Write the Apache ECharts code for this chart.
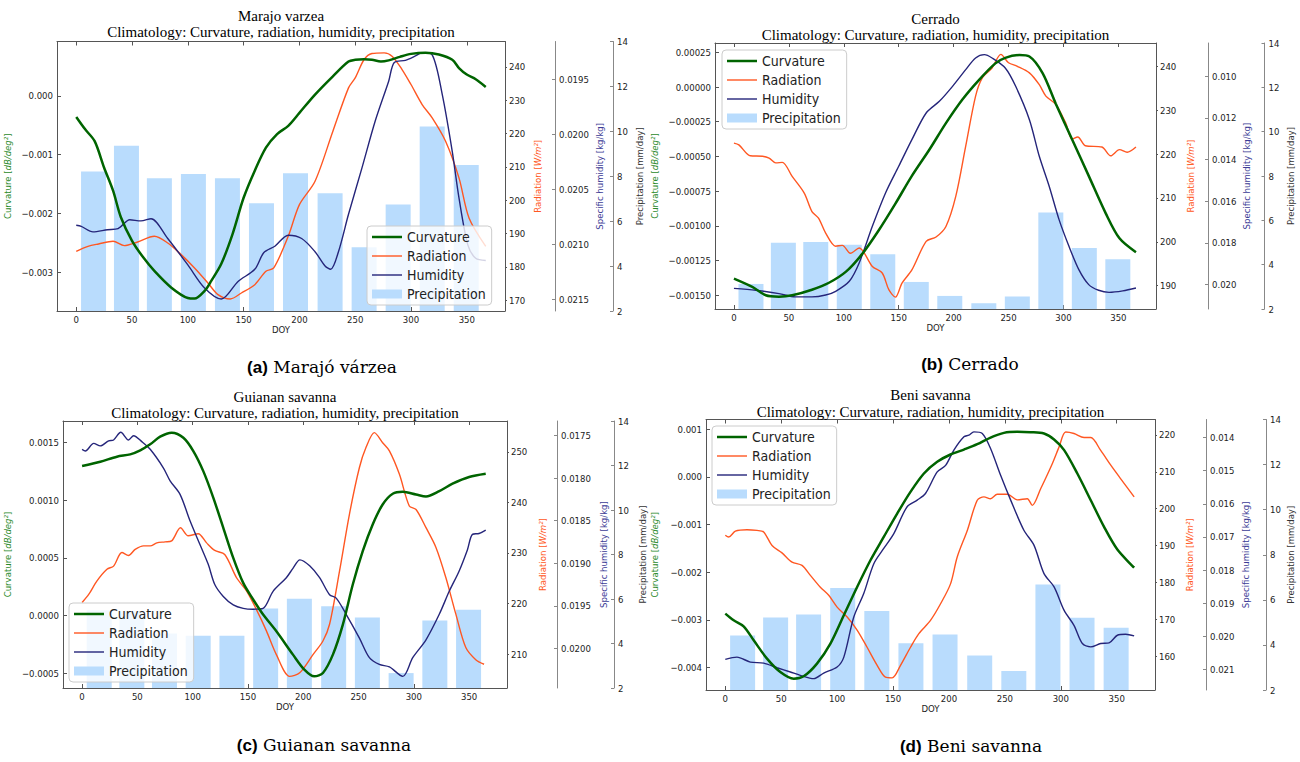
<!DOCTYPE html>
<html><head><meta charset="utf-8">
<script src="https://cdn.jsdelivr.net/npm/echarts@6/dist/echarts.min.js"></script>
<style>html,body{margin:0;padding:0;background:#fff}#chart{width:1300px;height:762px}</style>
</head><body><div id="chart"></div>
<script>
// ---------------- DATA ----------------
const monthDoy = [15.5, 45, 74.5, 105, 135.5, 166, 196.5, 227.5, 258, 288.5, 319, 349.5];
const doyTicks = [0, 50, 100, 150, 200, 250, 300, 350];
const precipTicks = [2, 4, 6, 8, 10, 12, 14];
const seriesNames = ['Curvature', 'Radiation', 'Humidity', 'Precipitation'];

// (a) Marajo varzea
const marajoCurvature = [[0,-0.00036],[8,-0.00057],[16.5,-0.00077],[25,-0.00122],[33,-0.00161],[40,-0.00206],[50,-0.00246],[60,-0.00274],[70,-0.00297],[85,-0.00325],[100,-0.00343],[106,-0.00344],[115,-0.00331],[121,-0.00314],[130,-0.00285],[140,-0.00235],[150,-0.00173],[160,-0.00127],[170,-0.00088],[180,-0.00065],[190,-0.00051],[200,-0.00029],[214,0.00002],[230,0.00033],[244,0.00058],[250,0.00061],[258,0.00062],[265,0.00061],[273,0.00058],[280,0.0006],[290,0.00066],[300,0.00071],[313,0.00073],[325,0.0007],[337,0.00061],[343,0.00047],[350,0.00036],[358,0.00028],[367,0.00015]];
const marajoRadiation = [[0,184.7],[10.5,186.2],[20,186.9],[33,187.7],[43,186.4],[55,187.5],[70,189.2],[82,187.2],[94,183.7],[106,179.7],[118,175.2],[127,171.7],[138,170.4],[148,172.2],[160,174.7],[170,178.7],[177,179.7],[190,189.2],[200,198.7],[214,205.7],[230,220.7],[244,233.7],[250,236.7],[258,242.2],[265,244.0],[276,244.2],[283,243.2],[292,239.2],[300,234.7],[310,228.7],[319,224.7],[331,217.7],[343,206.7],[352,194.7],[367,186.2]];
const marajoHumidity = [[0,0.02083],[4.5,0.02084],[15,0.02089],[28,0.02087],[37.5,0.02086],[48,0.02078],[58,0.02079],[67,0.02077],[82,0.02095],[100,0.02119],[115,0.0214],[130,0.0215],[145,0.02134],[160,0.02123],[168,0.02108],[178,0.02102],[190,0.02092],[202,0.02095],[214,0.02107],[223,0.0212],[228,0.02123],[235,0.02107],[244,0.02073],[256,0.02031],[268,0.01988],[280,0.01952],[285,0.01935],[295,0.01933],[304,0.01929],[310,0.01926],[319,0.01928],[328,0.01964],[337,0.02016],[343,0.02058],[351,0.02101],[358,0.02113],[367,0.02115]];
const marajoPrecip = [8.21, 9.36, 7.91, 8.10, 7.91, 6.80, 8.13, 7.24, 4.84, 6.74, 10.21, 8.50];
const marajoCurvTicks = [-0.003, -0.002, -0.001, 0];
const marajoRadTicks = [170, 180, 190, 200, 210, 220, 230, 240];
const marajoHumTicks = [0.0195, 0.0200, 0.0205, 0.0210, 0.0215];

// (b) Cerrado
const cerradoCurvature = [[0,-0.00138],[16.7,-0.00144],[29,-0.0015],[41,-0.00151],[53,-0.0015],[71,-0.00146],[86.5,-0.00141],[102,-0.00133],[117,-0.0012],[132,-0.00103],[147,-0.00084],[162,-0.00064],[178,-0.00045],[193,-0.00026],[208,-0.00009],[223,0.00005],[238,0.00017],[247,0.00021],[260,0.00023],[269,0.00022],[281,0.0001],[293,-0.00012],[308,-0.00038],[323,-0.00064],[338.5,-0.00091],[351,-0.00109],[366,-0.00119]];
const cerradoRadiation = [[0,222.5],[4.5,222.1],[15,219.6],[26,219.5],[32,219.1],[38,218.0],[44,218.1],[53,214.9],[64,211.1],[71,206.9],[77,205.4],[83.5,202.0],[92.6,199.0],[98.7,199.2],[106,197.4],[114,198.6],[126,194.4],[135,192.9],[141,189.1],[147,187.4],[153,190.6],[162,193.6],[175,200.1],[184,201.1],[193,203.5],[202,210.4],[211,221.8],[220,233.2],[226,237.3],[235,239.6],[243,242.7],[250,240.8],[258,240.0],[269,238.5],[278,235.8],[284,233.2],[293,231.3],[302,227.1],[308,223.4],[313,223.9],[320,221.9],[335,221.6],[343,219.6],[351,221.0],[358,220.4],[366,221.6]];
const cerradoHumidity = [[0,0.02018],[20,0.02027],[41,0.02043],[56,0.02059],[71,0.02059],[83.5,0.0205],[92.6,0.02032],[105,0.01984],[114,0.01896],[126,0.0172],[138,0.0156],[150,0.01432],[162,0.01304],[175,0.01176],[187,0.0112],[199,0.01048],[211,0.00968],[220,0.00912],[228,0.00896],[235,0.00912],[247,0.0096],[256.5,0.01048],[269,0.01208],[278,0.01384],[287,0.01528],[296,0.01688],[305,0.01816],[314,0.01928],[323,0.02],[332,0.02027],[341.5,0.02037],[354,0.0203],[366,0.02016]];
const cerradoPrecip = [3.13, 4.99, 5.02, 4.90, 4.47, 3.22, 2.59, 2.26, 2.56, 6.35, 4.75, 4.24];
const cerradoCurvTicks = [-0.0015, -0.00125, -0.001, -0.00075, -0.0005, -0.00025, 0, 0.00025];
const cerradoRadTicks = [190, 200, 210, 220, 230, 240];
const cerradoHumTicks = [0.010, 0.012, 0.014, 0.016, 0.018, 0.020];

// (c) Guianan savanna
const guianaCurvature = [[0,0.001295],[16.5,0.001332],[31.5,0.001376],[43.5,0.001396],[52.6,0.001431],[61.6,0.001483],[70.6,0.001549],[81,0.001584],[91.6,0.00154],[100.6,0.001425],[109.6,0.001251],[118.7,0.00102],[127.7,0.00076],[136.7,0.0005],[145.7,0.000283],[154.7,0.000139],[163.7,0.000009],[175.7,-0.000136],[190.7,-0.000338],[201,-0.000468],[210,-0.000526],[217.8,-0.000497],[226.8,-0.000338],[235.8,-0.000078],[244.8,0.000269],[253.8,0.000558],[262.8,0.000789],[271.8,0.000962],[280.9,0.001055],[290,0.001072],[302,0.001049],[311,0.001032],[323,0.001078],[335,0.001142],[350,0.0012],[365,0.001228]];
const guianaRadiation = [[0,220.2],[6,221.8],[13.5,224.5],[22.5,226.8],[28.5,227.4],[36,230.1],[42,229.5],[48,230.7],[55.6,231.4],[61.6,231.4],[67.6,232.0],[75,232.2],[81,232.4],[89,235.0],[96,233.4],[105,233.8],[112.6,232.0],[120,230.5],[129,229.7],[139.7,225.1],[148.7,222.5],[157.7,218.8],[166.7,214.6],[175.7,209.9],[187.7,205.6],[196.8,206.3],[208.8,209.9],[217.8,212.6],[223.8,215.9],[232.8,226.4],[241.8,237.7],[250.8,246.9],[256.8,250.9],[264.3,253.8],[271.8,251.8],[277.9,250.2],[286.9,245.6],[295.9,239.3],[302,238.6],[311,235.0],[320,231.1],[329,225.1],[338,217.9],[347,211.3],[356,208.9],[363.5,208.0]];
const guianaHumidity = [[0,0.01766],[3,0.01768],[10.5,0.01759],[16.5,0.01762],[24,0.01756],[28.5,0.01755],[35,0.01746],[42,0.01755],[46.6,0.0175],[54,0.01757],[61.6,0.01766],[73.6,0.01788],[79.6,0.01803],[88.6,0.01819],[97.6,0.0185],[106.6,0.01878],[114,0.01901],[120,0.01925],[127.7,0.01939],[136.7,0.01949],[145.7,0.01953],[154.7,0.01954],[163.7,0.01953],[172.7,0.01933],[184.7,0.01917],[190.7,0.01906],[197,0.01896],[205.8,0.01903],[214.8,0.01917],[223.8,0.01937],[229.8,0.01941],[238.8,0.0196],[250.8,0.01988],[259.8,0.02011],[268.8,0.02019],[277.9,0.02022],[290,0.02033],[299,0.02011],[311,0.0199],[323,0.0196],[332,0.01933],[341,0.01909],[348.5,0.01884],[353,0.01866],[359,0.01865],[365,0.01861]];
const guianaPrecip = [5.49, 5.45, 4.45, 4.35, 4.35, 5.57, 6.01, 5.67, 5.17, 2.67, 5.03, 5.52];
const guianaCurvTicks = [-0.0005, 0, 0.0005, 0.001, 0.0015];
const guianaRadTicks = [210, 220, 230, 240, 250];
const guianaHumTicks = [0.0175, 0.0180, 0.0185, 0.0190, 0.0195, 0.0200];

// (d) Beni savanna
const beniCurvature = [[0,-0.002867],[7.5,-0.003007],[16.4,-0.003133],[25.4,-0.003427],[37.3,-0.003811],[49.2,-0.004091],[61.2,-0.004231],[70.1,-0.004182],[82,-0.003916],[94,-0.003497],[106,-0.002902],[117.9,-0.002308],[129.8,-0.001748],[141.7,-0.001259],[153.7,-0.000769],[165.6,-0.000315],[177.6,0.00007],[189.5,0.000315],[201.4,0.000469],[213.4,0.000573],[225.3,0.000685],[237.2,0.000825],[249.2,0.000923],[261.1,0.000944],[273,0.000937],[285,0.000909],[294,0.000783],[303,0.00056],[314.8,0.00007],[326.8,-0.00049],[338.7,-0.001049],[350.6,-0.001524],[365.6,-0.001902]];
const beniRadiation = [[0,192.8],[3,192.3],[9,193.9],[19.4,194.3],[28.3,194.1],[34.3,193.7],[41.8,190.0],[50.7,188.0],[59.7,185.5],[68.6,184.6],[76.1,181.9],[85,178.7],[92.5,176.5],[100,173.3],[109,170.6],[118,167.0],[126.8,162.4],[135.8,157.5],[143.2,154.3],[149.2,154.1],[156.7,157.5],[165.6,162.4],[173.1,166.1],[183.5,169.7],[192.5,174.2],[201.4,179.6],[207.4,186.9],[216.4,194.1],[225.3,202.3],[231.3,203.2],[237.2,202.7],[243.2,203.9],[252.2,203.9],[261.1,202.4],[270,202.7],[274.5,200.9],[282,205.4],[292.4,212.2],[298.4,216.7],[304.4,220.8],[311.8,220.4],[320.8,219.3],[326.8,219.3],[335.7,215.8],[344.7,211.8],[353.6,208.1],[365.6,203.2]];
const beniHumidity = [[0,0.0207],[10.4,0.02063],[22.4,0.02078],[34.3,0.02081],[46.3,0.02095],[58.2,0.02108],[67.1,0.02118],[79.1,0.02128],[88,0.02111],[100,0.02093],[106,0.02063],[114.9,0.01942],[123.8,0.01871],[132.8,0.01781],[141.7,0.01735],[150.7,0.0169],[162.6,0.01609],[171.6,0.01589],[179,0.01569],[189.5,0.01504],[197,0.01484],[204.4,0.01438],[213.4,0.01398],[217.8,0.01393],[222.3,0.01383],[229.8,0.01388],[237.2,0.01433],[246.2,0.01514],[255.2,0.01589],[267,0.0168],[276,0.01725],[285,0.01811],[294,0.01851],[303,0.01922],[311.8,0.01967],[319.3,0.02022],[326.8,0.02032],[335.7,0.02022],[343.2,0.0202],[350.6,0.01997],[358,0.01994],[365.6,0.01999]];
const beniPrecip = [4.42, 5.22, 5.35, 6.52, 5.50, 4.07, 4.46, 3.53, 2.84, 6.68, 5.20, 4.76];
const beniCurvTicks = [-0.004, -0.003, -0.002, -0.001, 0, 0.001];
const beniRadTicks = [160, 170, 180, 190, 200, 210, 220];
const beniHumTicks = [0.014, 0.015, 0.016, 0.017, 0.018, 0.019, 0.020, 0.021];

// ---------------- LAYOUT / STYLE ----------------
const SANS = "'DejaVu Sans Condensed', 'Liberation Sans', sans-serif";
const SERIF = "'Liberation Serif', serif";
const C_CURV = '#006400', C_RAD = '#ff5722', C_HUM = '#25257a', C_PRE = '#b9dcfd';
const X_MIN = -17.25, X_MAX = 384.25;
const SUBTITLE = 'Climatology: Curvature, radiation, humidity, precipitation';
const ICON_THICK = 'path://M0,0L0,0M0,3.25L30,3.25L30,5.75L0,5.75ZM30,9L30,9';
const ICON_THIN = 'path://M0,0L0,0M0,3.8L30,3.8L30,5.2L0,5.2ZM30,9L30,9';

function fmt(d) { return v => { if (Math.abs(v) < 1e-12) v = 0; return v.toFixed(d).replace('-', '\u2212'); }; }

const panels = [
  { title: 'Marajo varzea', tY: 15.5, tX: 281, cap: ['(a)', 'Marajó várzea'], capX: 322, capY: 367,
    grid: { left: 57, top: 41.5, width: 448, height: 269.5 },
    curv: { d: marajoCurvature, min: -0.00365, max: 0.00092, ticks: marajoCurvTicks, dec: 3, gap: 45 },
    rad: { d: marajoRadiation, min: 166.8, max: 247.6, ticks: marajoRadTicks, gap: 27 },
    hum: { d: marajoHumidity, min: 0.019159, max: 0.021609, ticks: marajoHumTicks, dec: 4, off: 50, gap: 39 },
    pre: { d: marajoPrecip, off: 108, gap: 21 },
    legend: { left: 367, top: 226 } },
  { title: 'Cerrado', tY: 18.5, tX: 935.5, cap: ['(b)', 'Cerrado'], capX: 970, capY: 364,
    grid: { left: 715, top: 43, width: 441, height: 266 },
    curv: { d: cerradoCurvature, min: -0.001599, max: 0.000317, ticks: cerradoCurvTicks, dec: 5, gap: 56 },
    rad: { d: cerradoRadiation, min: 184.7, max: 245.3, ticks: cerradoRadTicks, gap: 29 },
    hum: { d: cerradoHumidity, min: 0.0084, max: 0.02117, ticks: cerradoHumTicks, dec: 3, off: 52, gap: 33 },
    pre: { d: cerradoPrecip, off: 108.5, gap: 21 },
    legend: { left: 722, top: 50 } },
  { title: 'Guianan savanna', tY: 396.5, tX: 285, cap: ['(c)', 'Guianan savanna'], capX: 324, capY: 745,
    grid: { left: 63, top: 421, width: 444, height: 267 },
    curv: { d: guianaCurvature, min: -0.000627, max: 0.001685, ticks: guianaCurvTicks, dec: 4, gap: 51 },
    rad: { d: guianaRadiation, min: 203.3, max: 256.1, ticks: guianaRadTicks, gap: 30 },
    hum: { d: guianaHumidity, min: 0.017327, max: 0.020467, ticks: guianaHumTicks, dec: 4, off: 50, gap: 41 },
    pre: { d: guianaPrecip, off: 107, gap: 23 },
    legend: { left: 69, top: 603 } },
  { title: 'Beni savanna', tY: 395, tX: 930.5, cap: ['(d)', 'Beni savanna'], capX: 971, capY: 746,
    grid: { left: 706, top: 419.5, width: 449, height: 270.5 },
    curv: { d: beniCurvature, min: -0.004469, max: 0.001203, ticks: beniCurvTicks, dec: 3, gap: 47 },
    rad: { d: beniRadiation, min: 150.8, max: 224.2, ticks: beniRadTicks, gap: 29 },
    hum: { d: beniHumidity, min: 0.013456, max: 0.021623, ticks: beniHumTicks, dec: 3, off: 51, gap: 34 },
    pre: { d: beniPrecip, off: 111, gap: 19 },
    legend: { left: 712, top: 426 } }
];

const tickLabel = { fontSize: 9.5, fontFamily: SANS, color: '#222' };
const option = { animation: false, backgroundColor: '#fff', grid: [], xAxis: [], yAxis: [], series: [], legend: [], graphic: [] };

panels.forEach((p, k) => {
  option.grid.push(Object.assign({ outerBoundsMode: 'none', containLabel: false }, p.grid));
  option.xAxis.push({ type: 'value', gridIndex: k, position: 'bottom', min: X_MIN, max: X_MAX,
    name: 'DOY', nameLocation: 'middle', nameGap: 13, nameTextStyle: { fontSize: 9.5, fontFamily: SANS, color: '#222' },
    axisLine: { show: true, onZero: false, lineStyle: { color: '#555', width: 1 } },
    axisTick: { show: true, inside: true, length: 4, customValues: doyTicks, lineStyle: { color: '#555' } },
    axisLabel: Object.assign({ customValues: doyTicks, margin: 3 }, tickLabel),
    splitLine: { show: false } });
  option.xAxis.push({ type: 'value', gridIndex: k, position: 'top', min: X_MIN, max: X_MAX,
    axisLine: { show: true, onZero: false, lineStyle: { color: '#555', width: 1 } },
    axisTick: { show: true, inside: true, length: 4, customValues: doyTicks, lineStyle: { color: '#555' } },
    axisLabel: { show: false }, splitLine: { show: false } });
  const xi = 2 * k, yi = 4 * k;
  option.yAxis.push({ type: 'value', gridIndex: k, position: 'left', min: p.curv.min, max: p.curv.max,
    name: 'Curvature [{i|dB/deg²}]', nameLocation: 'middle', nameRotate: 90, nameGap: p.curv.gap,
    nameTextStyle: { fontSize: 9.5, fontFamily: SANS, color: '#2a8a2a', rich: { i: { fontStyle: 'italic', fontSize: 9.5, fontFamily: SANS, color: '#2a8a2a' } } },
    axisLine: { show: true, onZero: false, lineStyle: { color: '#555', width: 1 } },
    axisTick: { show: true, inside: true, length: 4, customValues: p.curv.ticks, lineStyle: { color: '#555' } },
    axisLabel: Object.assign({ customValues: p.curv.ticks, margin: 4, formatter: fmt(p.curv.dec) }, tickLabel),
    splitLine: { show: false } });
  option.yAxis.push({ type: 'value', gridIndex: k, position: 'right', offset: 0, min: p.rad.min, max: p.rad.max,
    name: 'Radiation [{i|W/m²}]', nameLocation: 'middle', nameRotate: 90, nameGap: p.rad.gap,
    nameTextStyle: { fontSize: 9.5, fontFamily: SANS, color: C_RAD, rich: { i: { fontStyle: 'italic', fontSize: 9.5, fontFamily: SANS, color: C_RAD } } },
    axisLine: { show: true, onZero: false, lineStyle: { color: '#555', width: 1 } },
    axisTick: { show: true, inside: false, length: 2, customValues: p.rad.ticks, lineStyle: { color: '#555' } },
    axisLabel: Object.assign({ customValues: p.rad.ticks, margin: 4, formatter: fmt(0) }, tickLabel),
    splitLine: { show: false } });
  option.yAxis.push({ type: 'value', gridIndex: k, position: 'right', offset: p.hum.off, inverse: true, min: p.hum.min, max: p.hum.max,
    name: 'Specific humidity [kg/kg]', nameLocation: 'middle', nameRotate: 90, nameGap: p.hum.gap,
    nameTextStyle: { fontSize: 9.5, fontFamily: SANS, color: '#3c3c96' },
    axisLine: { show: true, onZero: false, lineStyle: { color: '#888', width: 1 } },
    axisTick: { show: true, inside: true, length: 3, customValues: p.hum.ticks, lineStyle: { color: '#888' } },
    axisLabel: Object.assign({ customValues: p.hum.ticks, margin: 4, formatter: fmt(p.hum.dec) }, tickLabel),
    splitLine: { show: false } });
  option.yAxis.push({ type: 'value', gridIndex: k, position: 'right', offset: p.pre.off, min: 2, max: 14,
    name: 'Precipitation [mm/day]', nameLocation: 'middle', nameRotate: 90, nameGap: p.pre.gap,
    nameTextStyle: { fontSize: 9.5, fontFamily: SANS, color: '#333' },
    axisLine: { show: true, onZero: false, lineStyle: { color: '#888', width: 1 } },
    axisTick: { show: true, inside: true, length: 3, customValues: precipTicks, lineStyle: { color: '#888' } },
    axisLabel: Object.assign({ customValues: precipTicks, margin: 4, formatter: fmt(0) }, tickLabel),
    splitLine: { show: false } });

  option.series.push({ name: 'Precipitation', type: 'bar', xAxisIndex: xi, yAxisIndex: yi + 3, z: 1,
    barWidth: 25, clip: true, itemStyle: { color: C_PRE },
    data: monthDoy.map((d, i) => [d, p.pre.d[i]]) });
  option.series.push({ name: 'Curvature', type: 'line', xAxisIndex: xi, yAxisIndex: yi, z: 4,
    symbol: 'none', smooth: 0.3, lineStyle: { color: C_CURV, width: 2.5 }, itemStyle: { color: C_CURV }, data: p.curv.d });
  option.series.push({ name: 'Radiation', type: 'line', xAxisIndex: xi, yAxisIndex: yi + 1, z: 3,
    symbol: 'none', smooth: 0.3, lineStyle: { color: C_RAD, width: 1.4 }, itemStyle: { color: C_RAD }, data: p.rad.d });
  option.series.push({ name: 'Humidity', type: 'line', xAxisIndex: xi, yAxisIndex: yi + 2, z: 3,
    symbol: 'none', smooth: 0.3, lineStyle: { color: C_HUM, width: 1.4 }, itemStyle: { color: C_HUM }, data: p.hum.d });

  option.legend.push({ orient: 'vertical', left: p.legend.left, top: p.legend.top,
    data: [ { name: 'Curvature', icon: ICON_THICK }, { name: 'Radiation', icon: ICON_THIN },
            { name: 'Humidity', icon: ICON_THIN }, { name: 'Precipitation', icon: 'rect' } ],
    itemWidth: 30, itemHeight: 9, itemGap: 5, padding: [4, 6, 4, 5], z: 10,
    backgroundColor: 'rgba(255,255,255,0.8)', borderColor: '#cccccc', borderWidth: 1, borderRadius: 4,
    textStyle: { fontSize: 14, fontFamily: SANS, color: '#222' }, selectedMode: false });

  option.graphic.push({ type: 'text', x: p.tX, y: p.tY, z: 20,
    style: { text: p.title, fontSize: 15, fontFamily: SERIF, fill: '#000', align: 'center', verticalAlign: 'middle' } });
  option.graphic.push({ type: 'text', x: p.tX, y: p.tY + 16.5, z: 20,
    style: { text: SUBTITLE, fontSize: 15, fontFamily: SERIF, fill: '#000', align: 'center', verticalAlign: 'middle' } });
  option.graphic.push({ type: 'text', x: p.capX, y: p.capY, z: 20,
    style: { text: '{b|' + p.cap[0] + '} {s|' + p.cap[1] + '}', fontSize: 17, fontFamily: "'DejaVu Serif', serif", fill: '#000',
      align: 'center', verticalAlign: 'middle',
      rich: { b: { fontSize: 17, fontWeight: 'bold', fontFamily: "'Liberation Sans', sans-serif", fill: '#000' },
              s: { fontSize: 17, fontFamily: "'DejaVu Serif', serif", fill: '#000' } } } });
});

const chart = echarts.init(document.getElementById('chart'), null, { renderer: 'svg', width: 1300, height: 762 });
chart.setOption(option);
</script>
</body></html>
